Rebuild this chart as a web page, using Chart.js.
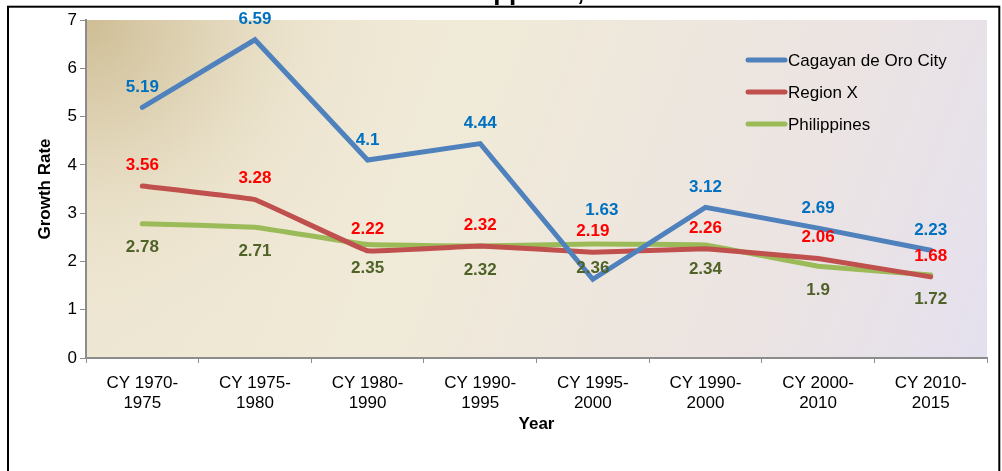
<!DOCTYPE html>
<html>
<head>
<meta charset="utf-8">
<script src="https://cdn.jsdelivr.net/npm/chart.js@4.4.1/dist/chart.umd.min.js"></script>
<style>
  html, body { margin: 0; padding: 0; background: #fff; }
  #wrap { position: relative; width: 1002px; height: 471px; }
</style>
</head>
<body>
<div id="wrap"><canvas id="c" width="1002" height="471"></canvas></div>
<script>
const categories = [
  ["CY 1970-", "1975"], ["CY 1975-", "1980"], ["CY 1980-", "1990"], ["CY 1990-", "1995"],
  ["CY 1995-", "2000"], ["CY 1990-", "2000"], ["CY 2000-", "2010"], ["CY 2010-", "2015"]
];
const cagayanDeOro = [5.19, 6.59, 4.1, 4.44, 1.63, 3.12, 2.69, 2.23];
const regionX      = [3.56, 3.28, 2.22, 2.32, 2.19, 2.26, 2.06, 1.68];
const philippines  = [2.78, 2.71, 2.35, 2.32, 2.36, 2.34, 1.9, 1.72];
const seriesNames  = ["Cagayan de Oro City", "Region X", "Philippines"];
const yTicks       = [0, 1, 2, 3, 4, 5, 6, 7];
const titleText    = "Philippines, 1970-2015";

const FONT = "'Liberation Sans', Arial, sans-serif";
const lineColors  = ["#4F81BD", "#C0504D", "#9BBB59"];
const labelColors = ["#0070C0", "#FF0000", "#4F6228"];

const decorPlugin = {
  id: 'decor',
  beforeDraw(chart) {
    const ctx = chart.ctx, a = chart.chartArea;
    const w = a.right - a.left, h = a.bottom - a.top;
    ctx.save();
    ctx.fillStyle = '#fff';
    ctx.fillRect(0, 0, chart.width, chart.height);
    const g = ctx.createLinearGradient(a.left, a.top, a.right, a.bottom);
    g.addColorStop(0, '#EDE5D0');
    g.addColorStop(0.4, '#F0EAD8');
    g.addColorStop(0.75, '#ECE4E2');
    g.addColorStop(1, '#E4E0EE');
    ctx.fillStyle = g;
    ctx.fillRect(a.left, a.top, w, h);
    ctx.beginPath();
    ctx.rect(a.left, a.top, w, h);
    ctx.clip();
    const r = ctx.createRadialGradient(a.left, a.top, 0, a.left, a.top, 330);
    r.addColorStop(0, 'rgba(206,189,148,1)');
    r.addColorStop(0.3, 'rgba(214,199,163,0.7)');
    r.addColorStop(0.65, 'rgba(225,213,183,0.25)');
    r.addColorStop(1, 'rgba(235,226,205,0)');
    ctx.fillStyle = r;
    ctx.fillRect(a.left, a.top, w, h);
    ctx.restore();
  },
  afterDatasetsDraw(chart) {
    const ctx = chart.ctx;
    ctx.save();
    ctx.font = "bold 17px " + FONT;
    ctx.textAlign = 'center';
    ctx.textBaseline = 'middle';
    const offsets = [-20, -21, 24];
    chart.data.datasets.forEach((ds, i) => {
      const meta = chart.getDatasetMeta(i);
      const si = seriesNames.indexOf(ds.label);
      ctx.fillStyle = labelColors[si];
      meta.data.forEach((pt, j) => {
        let dy = offsets[si], dx = 0;
        if (si === 0 && j === 4) { dy = -69; dx = 9; }
        ctx.fillText(String(ds.data[j]), pt.x + dx, pt.y + dy);
      });
    });
    // legend
    const lx0 = 748, lx1 = 785, rows = [60, 92, 124];
    ctx.font = "17px " + FONT;
    ctx.textAlign = 'left';
    ctx.lineCap = 'round';
    seriesNames.forEach((name, i) => {
      ctx.strokeStyle = lineColors[i];
      ctx.lineWidth = 5;
      ctx.beginPath();
      ctx.moveTo(lx0, rows[i]);
      ctx.lineTo(lx1, rows[i]);
      ctx.stroke();
      ctx.fillStyle = '#000';
      ctx.fillText(name, 788, rows[i] + 1);
    });
    ctx.restore();
  },
  afterDraw(chart) {
    const ctx = chart.ctx;
    ctx.save();
    ctx.fillStyle = '#000';
    ctx.font = "bold 26px " + FONT;
    ctx.textAlign = 'center';
    ctx.textBaseline = 'alphabetic';
    ctx.fillText(titleText, 577, 0);
    ctx.strokeStyle = '#000';
    ctx.lineWidth = 2;
    ctx.strokeRect(8, 6.7, 991.3, 500);
    ctx.restore();
  }
};

const mk = (i, data, tension) => ({
  label: seriesNames[i],
  data: data,
  borderColor: lineColors[i],
  backgroundColor: lineColors[i],
  borderWidth: 5,
  pointRadius: 0,
  pointHoverRadius: 0,
  tension: tension,
  borderCapStyle: 'round',
  borderJoinStyle: 'miter'
});

new Chart(document.getElementById('c'), {
  type: 'line',
  data: {
    labels: categories,
    datasets: [mk(0, cagayanDeOro, 0), mk(1, regionX, 0.05), mk(2, philippines, 0.05)]
  },
  options: {
    responsive: false,
    animation: false,
    events: [],
    layout: { padding: { left: 31, right: 15, top: 20, bottom: 32 } },
    plugins: { legend: { display: false }, tooltip: { enabled: false }, title: { display: false } },
    scales: {
      x: {
        offset: true,
        grid: { offset: true, drawOnChartArea: false, color: '#8C8C8C', tickLength: 5, lineWidth: 1 },
        border: { color: '#8C8C8C', width: 2 },
        ticks: { color: '#000', font: { family: FONT, size: 17 }, padding: 10, maxRotation: 0, autoSkip: false },
        title: { display: true, text: 'Year', color: '#000', font: { family: FONT, size: 17, weight: 'bold' } },
        afterFit(s) { s.height = 81; }
      },
      y: {
        min: 0, max: 7,
        afterBuildTicks(s) { s.ticks = yTicks.map(v => ({ value: v })); },
        grid: { drawOnChartArea: false, color: '#8C8C8C', tickLength: 6 },
        border: { color: '#8C8C8C', width: 2 },
        ticks: { color: '#000', font: { family: FONT, size: 17 }, padding: 3 },
        title: { display: true, text: 'Growth Rate', color: '#000', font: { family: FONT, size: 17, weight: 'bold' } },
        afterFit(s) { s.width = 55; }
      }
    }
  },
  plugins: [decorPlugin]
});
</script>
</body>
</html>
